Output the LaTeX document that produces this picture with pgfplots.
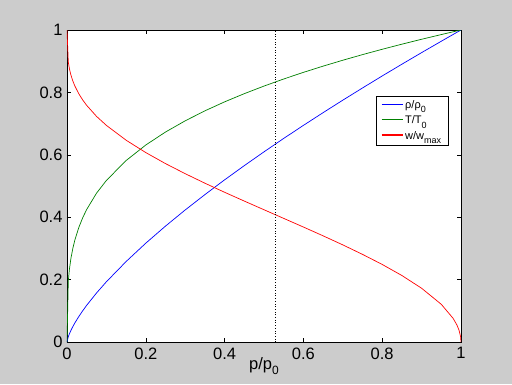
\documentclass[border=0pt]{standalone}
\usepackage{pgfplots}
\pgfplotsset{compat=1.18}
\usepackage{fontspec}
\setmainfont{Liberation Sans}
\definecolor{bg}{RGB}{204,204,204}
\definecolor{mgreen}{RGB}{0,128,0}
\newcommand{\lsub}[1]{\raisebox{-0.4em}{\fontsize{9}{10}\selectfont #1}}
\newcommand{\xsub}[1]{\raisebox{-0.35em}{\fontsize{12}{13}\selectfont #1}}
\begin{document}
\begin{tikzpicture}[x=1pt,y=1pt]
\useasboundingbox (0,0) rectangle (512,384);
\fill[bg] (0,0) rectangle (512,384);
\begin{axis}[
  at={(67pt,42pt)}, anchor=south west,
  scale only axis, width=394pt, height=312pt,
  xmin=0, xmax=1, ymin=0, ymax=1,
  xtick={0,0.2,...,1}, ytick={0,0.2,...,1},
  tick align=inside, major tick length=4pt,
  axis line style={line width=0.8pt},
  every tick/.style={black, line width=0.6pt},
  axis background/.style={fill=white},
  tick label style={font=\fontsize{16.5}{19}\selectfont},
  /pgf/number format/assume math mode=true,
  xticklabel style={yshift=-2pt},
  yticklabel style={xshift=-1pt},
  xlabel={p/p\xsub{0}},
  xlabel style={font=\fontsize{16.5}{19}\selectfont, yshift=9pt},
  legend style={at={(0.784,0.788)}, anchor=north west,
    font=\fontsize{11}{12}\selectfont, row sep=2pt,
    inner xsep=5pt, inner ysep=2pt},
  legend cell align=left,
  legend image code/.code={\draw[#1, line width=1.1pt] (0pt,1pt) -- (21pt,1pt);},
]
\addplot[color=blue, line width=0.7pt] coordinates {
(0,0) (0.0033,0.0169) (0.006,0.0259) (0.01,0.0373) (0.015,0.0498) (0.02,0.0612) (0.03,0.0817) (0.04,0.1003) (0.05,0.1177) (0.075,0.1572) (0.1,0.1931) (0.15,0.2579) (0.2,0.3168) (0.25,0.3715) (0.3,0.4232) (0.35,0.4724) (0.4,0.5197) (0.45,0.5653) (0.5,0.6095) (0.55,0.6525) (0.6,0.6943) (0.65,0.7351) (0.7,0.7751) (0.75,0.8142) (0.8,0.8527) (0.85,0.8904) (0.9,0.9275) (0.95,0.9640) (0.98,0.9857) (0.99,0.99285) (0.995,0.99642) (1,1)
};
\addlegendentry{ρ/ρ\lsub{0}}
\addplot[color=mgreen, line width=0.7pt] coordinates {
(0,0) (0.0033,0.1954) (0.006,0.2319) (0.01,0.2683) (0.015,0.3012) (0.02,0.3270) (0.03,0.3672) (0.04,0.3986) (0.05,0.4249) (0.075,0.4771) (0.1,0.5179) (0.15,0.5816) (0.2,0.6314) (0.25,0.6730) (0.3,0.7089) (0.35,0.7409) (0.4,0.7697) (0.45,0.7960) (0.5,0.8203) (0.55,0.8430) (0.6,0.8642) (0.65,0.8842) (0.7,0.9031) (0.75,0.9211) (0.8,0.9382) (0.85,0.9546) (0.9,0.9703) (0.95,0.9854) (0.98,0.99425) (0.99,0.99713) (0.995,0.99857) (1,1)
};
\addlegendentry{T/T\lsub{0}}
\addplot[color=red, line width=0.7pt] coordinates {
(0,1) (0.0033,0.897) (0.006,0.8764) (0.01,0.8554) (0.015,0.8359) (0.02,0.8204) (0.03,0.7955) (0.04,0.7755) (0.05,0.7584) (0.075,0.7231) (0.1,0.6943) (0.15,0.6468) (0.2,0.6071) (0.25,0.5718) (0.3,0.5395) (0.35,0.5090) (0.4,0.4799) (0.45,0.4517) (0.5,0.4239) (0.55,0.3962) (0.6,0.3685) (0.65,0.3403) (0.7,0.3113) (0.75,0.2809) (0.8,0.2486) (0.85,0.2131) (0.9,0.1723) (0.95,0.1208) (0.98,0.0758) (0.99,0.0536) (0.995,0.0378) (0.999,0.017) (1,0)
};
\addlegendentry{w/w\lsub{max}\hspace{5pt}}
\addplot[black, dotted, line width=0.7pt, forget plot] coordinates {(0.528,0) (0.528,1)};
\end{axis}
\end{tikzpicture}
\end{document}
